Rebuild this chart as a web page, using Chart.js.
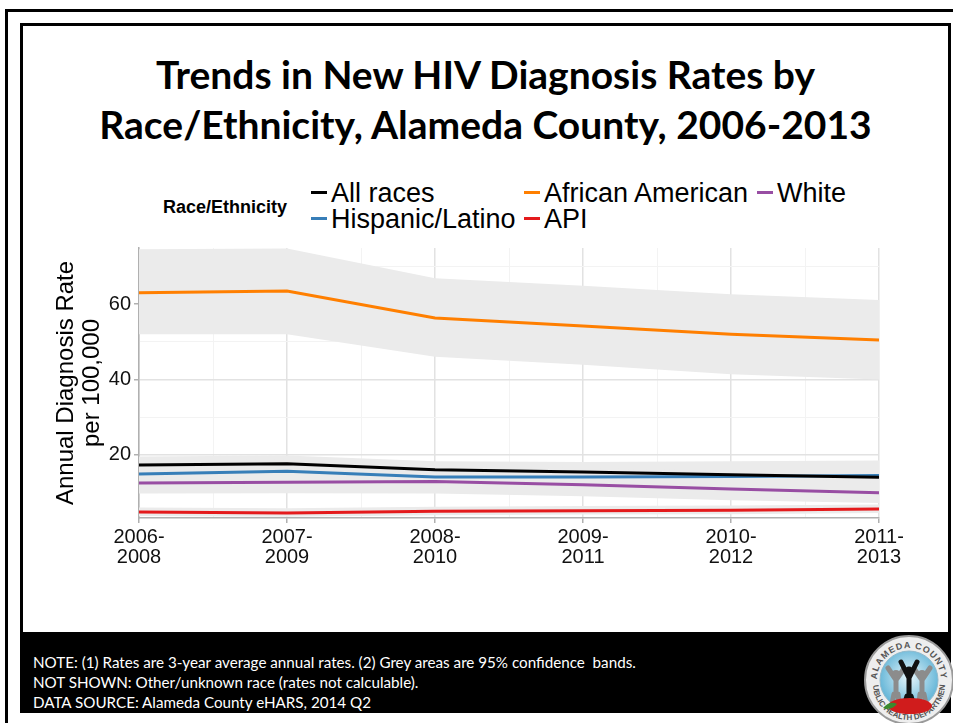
<!DOCTYPE html>
<html>
<head>
<meta charset="utf-8">
<title>HIV diagnosis rates by race/ethnicity</title>
<script src="https://cdn.jsdelivr.net/npm/chart.js@4.4.1/dist/chart.umd.min.js"></script>
<style>
  html, body { margin: 0; padding: 0; background: #fff; }
  #slide { position: relative; width: 953px; height: 723px; overflow: hidden; background: #fff; }
  .outer { position: absolute; left: 5px; top: 9px; width: 990px; height: 760px;
           border-left: 3px solid #000; border-top: 3px solid #000; }
  .inner { position: absolute; left: 20px; top: 23px; width: 925px; height: 612px;
           border: 3px solid #000; border-bottom: none; }
  .title { position: absolute; left: 23px; width: 925px; top: 49px; text-align: center;
           font-family: Lato, "Open Sans", sans-serif; font-weight: 700; font-size: 39px;
           line-height: 50px; color: #000; }
  .legend { font-family: "Liberation Sans", Arial, sans-serif; color: #000; }
  .legend .head { position: absolute; left: 163px; top: 196px; font-weight: 700; font-size: 18px; line-height: 22px; }
  .legend .item { position: absolute; font-size: 27px; line-height: 26px; white-space: nowrap; }
  .legend .dash { position: absolute; left: 0; top: 11px; width: 16px; height: 3px; }
  .legend .item span.lbl { padding-left: 20px; }
  #chartBox { position: absolute; left: 0; top: 240px; width: 953px; height: 350px; }
  .footer { position: absolute; left: 20px; top: 632px; width: 931px; height: 81px; background: #000; }
  .note { position: absolute; left: 33px; top: 652px; color: #fff;
          font-family: Lato, "Open Sans", sans-serif; font-size: 15.2px; line-height: 20px; white-space: pre; }
  #seal { position: absolute; left: 863px; top: 634px; }
</style>
</head>
<body>
<div id="slide">
  <div class="outer"></div>
  <div class="inner"></div>
  <div class="title">Trends in New HIV Diagnosis Rates by<br>Race/Ethnicity, Alameda County, 2006-2013</div>

  <div class="legend" id="legend">
    <div class="head">Race/Ethnicity</div>
  </div>

  <div id="chartBox"><canvas id="chart"></canvas></div>

  <div class="footer"></div>
  <div class="note">NOTE: (1) Rates are 3-year average annual rates. (2) Grey areas are 95% confidence  bands.
NOT SHOWN: Other/unknown race (rates not calculable).
DATA SOURCE: Alameda County eHARS, 2014 Q2</div>

  <svg id="seal" width="92" height="92" viewBox="0 0 92 92">
    <defs>
      <radialGradient id="sky" cx="50%" cy="45%" r="55%">
        <stop offset="0%" stop-color="#e8f6fb"/>
        <stop offset="100%" stop-color="#5fb3d6"/>
      </radialGradient>
      <path id="arcTop" d="M 14 46 A 32 32 0 0 1 78 46"/>
      <path id="arcBot" d="M 10 50 A 36 36 0 0 0 82 50"/>
    </defs>
    <circle cx="46" cy="46" r="44" fill="#eeeeee" stroke="#9a9a9a" stroke-width="2"/>
    <text font-family="Liberation Sans" font-size="9" font-weight="700" fill="#555" letter-spacing="1">
      <textPath href="#arcTop" startOffset="50%" text-anchor="middle">ALAMEDA COUNTY</textPath>
    </text>
    <text font-family="Liberation Sans" font-size="8" font-weight="700" fill="#555">
      <textPath href="#arcBot" startOffset="50%" text-anchor="middle">PUBLIC HEALTH DEPARTMENT</textPath>
    </text>
    <circle cx="46" cy="46" r="29" fill="url(#sky)" stroke="#8fb9cc" stroke-width="1"/>
    <!-- people raising arms -->
    <g stroke-linecap="round" fill="none">
      <g stroke="#8c8c8c" stroke-width="5">
        <path d="M33 60 L33 44 M33 46 L25 34 M33 46 L40 36 M31 60 L29 70 M35 60 L36 70"/>
        <path d="M59 60 L59 44 M59 46 L52 36 M59 46 L67 34 M57 60 L56 70 M61 60 L63 70"/>
      </g>
      <g stroke="#111" stroke-width="5">
        <path d="M46 62 L46 42 M46 44 L38 28 M46 44 L54 28 M44 62 L41 72 M48 62 L51 72"/>
      </g>
    </g>
    <circle cx="33" cy="40" r="4" fill="#8c8c8c"/>
    <circle cx="59" cy="40" r="4" fill="#8c8c8c"/>
    <circle cx="46" cy="37" r="4.5" fill="#111"/>
    <ellipse cx="47" cy="72" rx="22" ry="8" fill="#d01c1c"/>
    <path d="M20 74 Q27 66 34 70 Q28 77 20 74 Z" fill="#3a8a2e"/>
  </svg>
</div>

<script>
// three-year rolling periods on the x axis
var periods = ['2006-2008', '2007-2009', '2008-2010', '2009-2011', '2010-2012', '2011-2013'];

// y axis: labelled ticks and unlabelled minor grid
var yTicks = [20, 40, 60];
var yMinor = [10, 30, 50, 70];
var yMin = 3.2, yMax = 74.9;

// annual diagnosis rate per 100,000 (3-year averages) with 95% bounds
var groups = ['All races', 'African American', 'White', 'Hispanic/Latino', 'API'];
var colors = ['#000000', '#ff7f00', '#984ea3', '#377eb8', '#e41a1c'];

var allRates  = [17.3, 17.6, 16.0, 15.4, 14.7, 14.0];
var allLow    = [16.2, 16.5, 15.0, 14.4, 13.8, 13.1];
var allHigh   = [18.5, 18.7, 17.1, 16.4, 15.7, 14.9];

var aaRates   = [63.0, 63.5, 56.3, 54.2, 52.0, 50.5];
var aaLow     = [52.0, 52.0, 46.0, 43.9, 41.4, 40.0];
var aaHigh    = [74.6, 74.8, 66.9, 64.9, 62.6, 61.1];

var whRates   = [12.5, 12.7, 12.9, 12.0, 10.9, 9.9];
var whLow     = [9.7, 9.8, 9.7, 9.0, 7.9, 7.2];
var whHigh    = [15.3, 15.5, 15.8, 14.9, 13.8, 12.6];

var hiRates   = [14.9, 15.6, 14.1, 14.1, 14.25, 14.5];
var hiLow     = [10.6, 11.7, 10.2, 10.4, 10.6, 10.9];
var hiHigh    = [19.5, 19.8, 18.3, 18.1, 18.3, 18.5];

var apiRates  = [4.8, 4.55, 5.0, 5.15, 5.25, 5.6];
var apiLow    = [3.7, 3.5, 3.9, 4.1, 4.2, 4.5];
var apiHigh   = [6.0, 5.8, 6.2, 6.4, 6.5, 6.8];

var rates = [allRates, aaRates, whRates, hiRates, apiRates];
var lows  = [allLow, aaLow, whLow, hiLow, apiLow];
var highs = [allHigh, aaHigh, whHigh, hiHigh, apiHigh];

// legend laid out in two rows, filled column by column
var legendSlots = [
  {g: 0, x: 311, y: 180}, {g: 3, x: 311, y: 206},
  {g: 1, x: 524, y: 180}, {g: 4, x: 524, y: 206},
  {g: 2, x: 757, y: 180}
];
var legendEl = document.getElementById('legend');
legendSlots.forEach(function(s){
  var d = document.createElement('div');
  d.className = 'item';
  d.style.left = s.x + 'px';
  d.style.top = s.y + 'px';
  d.innerHTML = '<div class="dash" style="background:' + colors[s.g] + '"></div><span class="lbl">' + groups[s.g] + '</span>';
  legendEl.appendChild(d);
});

function pts(arr){
  return arr.map(function(v, i){ return {x: i, y: v}; });
}

var datasets = [];
// grey confidence bands: upper edge filled down to the lower edge
for (var k = 0; k < groups.length; k++) {
  datasets.push({
    data: pts(highs[k]), fill: '+1', backgroundColor: '#ebebeb',
    borderWidth: 0, pointRadius: 0, order: 2
  });
  datasets.push({
    data: pts(lows[k]), fill: false, borderWidth: 0, pointRadius: 0, order: 2
  });
}
for (var k = 0; k < groups.length; k++) {
  datasets.push({
    label: groups[k], data: pts(rates[k]), borderColor: colors[k],
    borderWidth: 3, pointRadius: 0, fill: false, tension: 0, order: 1
  });
}

var xGrid = [];
for (var i = 0; i <= periods.length - 1; i += 0.5) xGrid.push(i);
var yGrid = yTicks.concat(yMinor).sort(function(a, b){ return a - b; });

var tickFont = {family: 'Liberation Sans', size: 20, lineHeight: 1.0};
var majorGrid = '#e2e2e2', minorGrid = '#f3f3f3';

var ctx = document.getElementById('chart').getContext('2d');
var chart = new Chart(ctx, {
  type: 'line',
  data: {datasets: datasets},
  options: {
    responsive: true,
    maintainAspectRatio: false,
    animation: false,
    events: [],
    layout: {padding: {top: 8, right: 74, bottom: 0, left: 0}},
    plugins: {legend: {display: false}, tooltip: {enabled: false}},
    scales: {
      x: {
        type: 'linear', min: 0, max: periods.length - 1,
        afterBuildTicks: function(s){ s.ticks = xGrid.map(function(v){ return {value: v}; }); },
        afterFit: function(s){ s.height = 72; },
        ticks: {
          autoSkip: false, maxRotation: 0, minRotation: 0, padding: 4,
          color: '#111', font: tickFont,
          callback: function(v){
            if (!Number.isInteger(v)) return '';
            var p = periods[v].split('-');
            return [p[0] + '-', p[1]];
          }
        },
        grid: {
          color: function(c){ return Number.isInteger(c.tick.value) ? majorGrid : minorGrid; },
          lineWidth: function(c){ return Number.isInteger(c.tick.value) ? 1.5 : 1; },
          tickColor: function(c){ return Number.isInteger(c.tick.value) ? '#b0b0b0' : 'rgba(0,0,0,0)'; },
          tickLength: 5, tickWidth: 1.5
        },
        border: {display: true, color: '#b0b0b0', width: 1.5}
      },
      y: {
        min: yMin, max: yMax,
        afterBuildTicks: function(s){ s.ticks = yGrid.map(function(v){ return {value: v}; }); },
        afterFit: function(s){ s.width = 139; s.paddingTop = 0; s.paddingBottom = 0; },
        ticks: {
          padding: 3, color: '#111', font: tickFont,
          callback: function(v){ return yTicks.indexOf(v) >= 0 ? String(v) : ''; }
        },
        grid: {
          color: function(c){ return yTicks.indexOf(c.tick.value) >= 0 ? majorGrid : minorGrid; },
          lineWidth: function(c){ return yTicks.indexOf(c.tick.value) >= 0 ? 1.5 : 1; },
          tickColor: function(c){ return yTicks.indexOf(c.tick.value) >= 0 ? '#b0b0b0' : 'rgba(0,0,0,0)'; },
          tickLength: 5, tickWidth: 1.5
        },
        border: {display: true, color: '#b0b0b0', width: 1.5},
        title: {
          display: true,
          text: ['Annual Diagnosis Rate', 'per 100,000'],
          color: '#000',
          font: {family: 'Liberation Sans', size: 24, lineHeight: 26 / 24},
          padding: {top: 53, bottom: 0}
        }
      }
    }
  }
});
</script>
</body>
</html>
